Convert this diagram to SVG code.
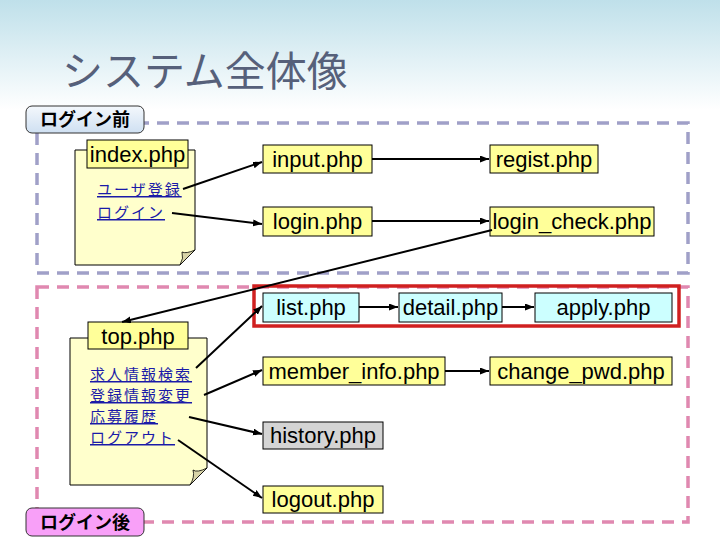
<svg xmlns="http://www.w3.org/2000/svg" width="720" height="540" viewBox="0 0 720 540">
<defs>
<linearGradient id="bg" x1="0" y1="0" x2="0" y2="1">
<stop offset="0" stop-color="#bfe0ea"/>
<stop offset="1" stop-color="#ffffff"/>
</linearGradient>
<linearGradient id="lb" x1="0" y1="0" x2="0" y2="1">
<stop offset="0" stop-color="#f4f8fc"/>
<stop offset="1" stop-color="#cfe0f2"/>
</linearGradient>
<marker id="ah" markerUnits="userSpaceOnUse" markerWidth="10" markerHeight="8" refX="9" refY="3.5" orient="auto">
<path d="M0,0 L9,3.5 L0,7 Z" fill="#000"/>
</marker>
<style>
.page{font-family:"Liberation Sans",Arial,sans-serif;font-size:22px;fill:#000}
.jp{font-family:"Noto Sans CJK JP","Liberation Sans",sans-serif}
.lnk{font-family:"Noto Sans CJK JP",sans-serif;font-size:15px;letter-spacing:2px;fill:#1a1aa8;text-decoration:underline}
.y{fill:#ffff99;stroke:#000;stroke-width:1}
.c{fill:#ccffff;stroke:#000;stroke-width:1}
.g{fill:#d4d4d4;stroke:#000;stroke-width:1}
.note{fill:#ffffcc;stroke:#000;stroke-width:1}
.fold{fill:#d8d4a8;stroke:#000;stroke-width:0.8}
.con line{stroke:#000;stroke-width:2;marker-end:url(#ah)}
.grp{font-family:"Noto Sans CJK JP",sans-serif;font-size:18px;font-weight:bold;fill:#000}
</style>
</defs>
<rect x="0" y="0" width="720" height="110" fill="url(#bg)"/>
<text x="62" y="86" class="jp" font-size="41" fill="#56607a">システム全体像</text>

<g id="before">
<rect x="37" y="123" width="651" height="150" fill="none" stroke="#a0a0c8" stroke-width="3.5" stroke-dasharray="12 8"/>
<rect x="26" y="106" width="118" height="27" rx="6" fill="url(#lb)" stroke="#333" stroke-width="1"/>
<text x="85" y="126" class="grp" text-anchor="middle">ログイン前</text>
</g>
<g id="after">
<rect x="37" y="287" width="651" height="235" fill="none" stroke="#e088b0" stroke-width="3.5" stroke-dasharray="12 8"/>
<rect x="26" y="508" width="118" height="28" rx="6" fill="#f8a0f8" stroke="#333" stroke-width="1"/>
<text x="85" y="529" class="grp" text-anchor="middle">ログイン後</text>
</g>
<g id="search-flow">
<rect x="254" y="286" width="425" height="40" fill="none" stroke="#d02020" stroke-width="3.5"/>
</g>

<g id="index" class="page">
<path class="note" d="M75,150 H195 V250 L180,265 H75 Z"/>
<path class="fold" d="M180,265 L195,250 Q186,254 182,252 Q184,258 180,265 Z"/>
<rect class="y" x="87" y="140" width="101" height="28"/>
<text x="137.5" y="162" text-anchor="middle">index.php</text>
<text x="97" y="195" class="lnk">ユーザ登録</text>
<text x="97" y="218" class="lnk">ログイン</text>
</g>
<g id="top" class="page">
<path class="note" d="M70,338 H207 V468 L190,485 H70 Z"/>
<path class="fold" d="M190,485 L207,468 Q197,473 193,470 Q195,477 190,485 Z"/>
<rect class="y" x="88" y="322" width="100" height="27"/>
<text x="138" y="344" text-anchor="middle">top.php</text>
<text x="90" y="380" class="lnk">求人情報検索</text>
<text x="90" y="401" class="lnk">登録情報変更</text>
<text x="90" y="422" class="lnk">応募履歴</text>
<text x="90" y="443" class="lnk">ログアウト</text>
</g>

<g id="input" class="page"><rect class="y" x="263" y="145" width="109" height="28"/><text x="317.5" y="167" text-anchor="middle">input.php</text></g>
<g id="regist" class="page"><rect class="y" x="490" y="145" width="108" height="28"/><text x="544" y="167" text-anchor="middle">regist.php</text></g>
<g id="login" class="page"><rect class="y" x="263" y="207" width="109" height="29"/><text x="317.5" y="229" text-anchor="middle">login.php</text></g>
<g id="login_check" class="page"><rect class="y" x="490" y="207" width="164" height="29"/><text x="572" y="229" text-anchor="middle">login_check.php</text></g>
<g id="list" class="page"><rect class="c" x="263" y="293" width="96" height="29"/><text x="311" y="315" text-anchor="middle">list.php</text></g>
<g id="detail" class="page"><rect class="c" x="399" y="293" width="103" height="29"/><text x="450.5" y="315" text-anchor="middle">detail.php</text></g>
<g id="apply" class="page"><rect class="c" x="535" y="293" width="137" height="29"/><text x="603.5" y="315" text-anchor="middle">apply.php</text></g>
<g id="member_info" class="page"><rect class="y" x="263" y="357" width="182" height="28"/><text x="354" y="379" text-anchor="middle">member_info.php</text></g>
<g id="change_pwd" class="page"><rect class="y" x="490" y="357" width="182" height="28"/><text x="581" y="379" text-anchor="middle">change_pwd.php</text></g>
<g id="history" class="page"><rect class="g" x="263" y="422" width="120" height="27"/><text x="323" y="443" text-anchor="middle">history.php</text></g>
<g id="logout" class="page"><rect class="y" x="263" y="486" width="120" height="27"/><text x="323" y="507" text-anchor="middle">logout.php</text></g>

<g id="connectors" class="con">
<line x1="183" y1="189" x2="262" y2="162"/>
<line x1="172" y1="213" x2="262" y2="224"/>
<line x1="372" y1="159" x2="489" y2="159"/>
<line x1="372" y1="221" x2="489" y2="221"/>
<line x1="492" y1="230" x2="122" y2="322"/>
<line x1="196" y1="368" x2="262" y2="306"/>
<line x1="204" y1="395" x2="262" y2="370"/>
<line x1="189" y1="417" x2="262" y2="434"/>
<line x1="178" y1="440" x2="262" y2="498"/>
<line x1="359" y1="307" x2="398" y2="307"/>
<line x1="502" y1="307" x2="534" y2="307"/>
<line x1="445" y1="371" x2="489" y2="371"/>
</g>
</svg>
